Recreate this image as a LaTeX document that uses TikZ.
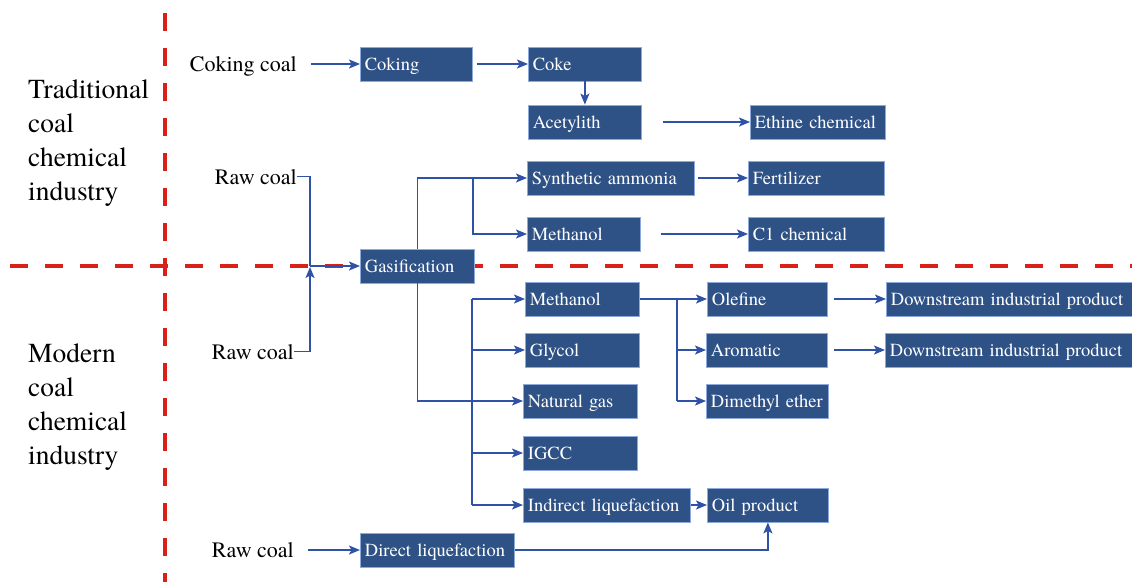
\documentclass[tikz,border=0pt]{standalone}
\usepackage{fontspec}
\setmainfont{TeX Gyre Termes}
\usetikzlibrary{positioning,arrows.meta}
\definecolor{boxblue}{HTML}{2F5286}
\definecolor{boxedge}{HTML}{8EA9DB}
\definecolor{flowblue}{HTML}{2F52A6}
\definecolor{splitred}{HTML}{DA2119}
\newcommand{\boxfont}{\rmfamily\fontsize{18.5}{22}\selectfont}
\newcommand{\coalfont}{\rmfamily\fontsize{22}{26}\selectfont}
\newcommand{\sidefont}{\rmfamily\fontsize{27.5}{34}\selectfont}

\begin{document}
\begin{tikzpicture}[x=1pt, y=-1pt,
  box/.style={draw=boxedge, line width=0.8pt, fill=boxblue, text=white, font=\boxfont, anchor=west, align=left, text width=#1, text height=15pt, text depth=3pt, minimum height=34pt, inner xsep=4.5pt, inner ysep=0pt},
  raw/.style={font=\coalfont, anchor=base east, inner sep=0pt},
  side/.style={font=\sidefont, align=left, anchor=west, inner sep=0pt},
  arr/.style={-{Stealth[length=11pt, width=9pt, inset=2.5pt]}, draw=flowblue, line width=1.6pt},
  line/.style={draw=flowblue, line width=1.6pt},
  divider/.style={draw=splitred, line width=4.5pt, dash pattern=on 18pt off 17pt}]
\useasboundingbox (0,0) rectangle (1132,582);

% dividing lines
\draw[divider] (10,266) -- (1132,266);
\draw[divider] (165,13) -- (165,582);

\node[side] (trad) at (28,143) {Traditional\\coal\\chemical\\industry};
\node[side] (modern) at (28,407) {Modern\\coal\\chemical\\industry};

% traditional route
\node[raw] (ccoal) at (297,71) {Coking coal};
\node[box=103pt] (coking) at (360,64) {Coking};
\node[box=104pt] (coke) at (528,64) {Coke};
\node[box=104pt] (acet) at (528,122) {Acetylith};
\node[box=126pt] (ethine) at (750,122) {Ethine chemical};
\node[raw] (raw1) at (297,184) {Raw coal};
\node[box=158pt] (synam) at (527,178) {Synthetic ammonia};
\node[box=127pt] (fert) at (748,178) {Fertilizer};
\node[box=104pt] (meth1) at (527,234) {Methanol};
\node[box=127pt] (cone) at (748,234) {C1 chemical};

% modern route
\node[box=105pt] (gas) at (360,266) {Gasification};
\node[raw] (raw2) at (294,359) {Raw coal};
\node[box=105pt] (meth2) at (525,299) {Methanol};
\node[box=111pt] (olef) at (707,299) {Olefine};
\node[box=237pt] (down1) at (886,299) {Downstream industrial product};
\node[box=105pt] (gly) at (525,350) {Glycol};
\node[box=112pt] (arom) at (706,350) {Aromatic};
\node[box=238pt] (down2) at (885,350) {Downstream industrial product};
\node[box=105pt] (ng) at (523,401) {Natural gas};
\node[box=113pt] (dme) at (706,401) {Dimethyl ether};
\node[box=105pt] (igcc) at (523,453) {IGCC};
\node[box=158pt] (indir) at (523,505) {Indirect liquefaction};
\node[box=112pt] (oil) at (707,505) {Oil product};
\node[raw] (raw3) at (294,557) {Raw coal};
\node[box=145pt] (direct) at (360,550) {Direct liquefaction};

\coordinate (jn) at (310,266);
\coordinate (sp1) at (473,178);
\coordinate (tk) at (472,299);
\coordinate (sp2) at (677,299);

\draw[arr, shorten <=14pt] (ccoal.east |- coking.west) -- (coking.west);
\draw[arr, shorten <=4pt] (coking) -- (coke);
\draw[arr] (coke) -- (acet);
\draw[arr, shorten <=21pt] (acet) -- (ethine);
\draw[arr, shorten <=3pt] (synam) -- (fert);
\draw[arr, shorten <=20pt] (meth1) -- (cone);

\draw[line] (raw1.east) -| (jn);
\draw[arr, shorten >=1pt] (raw2.east) -| (jn);
\draw[arr] (jn) -- (gas);
\draw[arr] (gas.north) |- (synam.west);
\draw[arr] (sp1) |- (meth1.west);
\draw[arr] (gas.south) |- (ng.west);

\draw[line] (tk) -- (tk |- indir.west);
\foreach \n in {meth2,gly,igcc,indir}
  \draw[arr] (tk |- \n.west) -- (\n.west);
\draw[arr] (meth2) -- (olef);
\draw[line] (sp2) -- (sp2 |- dme.west);
\foreach \n in {arom,dme}
  \draw[arr] (sp2 |- \n.west) -- (\n.west);
\draw[arr, shorten <=6pt] (olef) -- (down1);
\draw[arr, shorten <=6pt] (arom) -- (down2);
\draw[arr] (indir) -- (oil);
\draw[arr, shorten <=14pt] (raw3.east |- direct.west) -- (direct.west);
\draw[arr] (direct.east) -| (oil.south);
\end{tikzpicture}
\end{document}
